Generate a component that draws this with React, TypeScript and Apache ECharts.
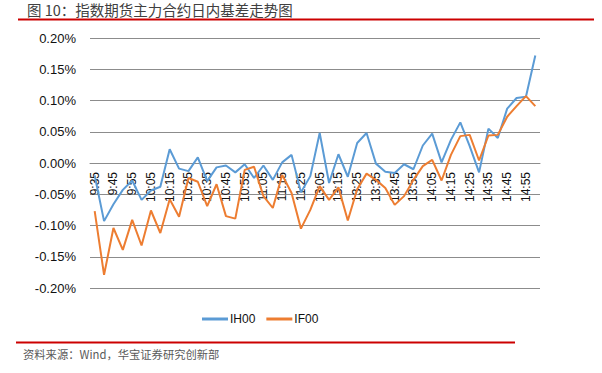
import React, { useEffect, useRef } from "react";
import * as echarts from "echarts";

const TITLE = "图 10：指数期货主力合约日内基差走势图";
const SOURCE = "资料来源：Wind，华宝证券研究创新部";

const times = [
  "9:35", "9:40", "9:45", "9:50", "9:55", "10:00", "10:05", "10:10", "10:15", "10:20",
  "10:25", "10:30", "10:35", "10:40", "10:45", "10:50", "10:55", "11:00", "11:05", "11:10",
  "11:15", "11:20", "11:25", "11:30", "13:05", "13:10", "13:15", "13:20", "13:25", "13:30",
  "13:35", "13:40", "13:45", "13:50", "13:55", "14:00", "14:05", "14:10", "14:15", "14:20",
  "14:25", "14:30", "14:35", "14:40", "14:45", "14:50", "14:55", "15:00",
];

const ih00 = [
  -0.020, -0.093, -0.066, -0.043, -0.028, -0.059, -0.044, -0.038, 0.022, -0.009,
  -0.013, 0.009, -0.029, -0.007, -0.004, -0.015, -0.002, -0.024, -0.004, -0.027,
  0.001, 0.013, -0.047, -0.021, 0.048, -0.032, 0.014, -0.022, 0.032, 0.048,
  -0.001, -0.014, -0.016, -0.002, -0.010, 0.028, 0.047, 0.001, 0.037, 0.065,
  0.027, -0.015, 0.055, 0.040, 0.087, 0.104, 0.106, 0.172,
];

const if00 = [
  -0.077, -0.179, -0.104, -0.139, -0.091, -0.132, -0.076, -0.112, -0.058, -0.086,
  -0.024, -0.030, -0.069, -0.034, -0.085, -0.089, -0.011, -0.006, -0.053, -0.072,
  -0.019, -0.048, -0.105, -0.075, -0.037, -0.059, -0.039, -0.092, -0.042, -0.017,
  -0.027, -0.040, -0.067, -0.053, -0.027, -0.005, 0.005, -0.028, 0.013, 0.043,
  0.045, 0.004, 0.044, 0.045, 0.074, 0.091, 0.107, 0.091,
];

const yMin = -0.2;
const yMax = 0.2;
const yStep = 0.05;

export default function App() {
  const ref = useRef<HTMLDivElement>(null);
  useEffect(() => {
    if (!ref.current) return;
    const chart = echarts.init(ref.current, undefined, { renderer: "svg" });
    const latin = "'Liberation Sans', Arial, sans-serif";
    const cjk = "'Noto Sans CJK SC', sans-serif";
    const gridTop = 38;
    const gridHeight = 250;
    // distance from bottom of grid to the zero line
    const zeroOffset = (gridHeight * (0 - yMin)) / (yMax - yMin);
    chart.setOption({
      animation: false,
      backgroundColor: "#ffffff",
      grid: { left: 90, right: 62, top: gridTop, height: gridHeight, containLabel: false },
      xAxis: {
        type: "category",
        data: times,
        boundaryGap: true,
        position: "bottom",
        offset: -zeroOffset,
        axisLine: { onZero: false, lineStyle: { color: "#8c8c8c", width: 1 } },
        axisTick: { show: false },
        axisLabel: {
          interval: 1,
          rotate: 90,
          margin: 9,
          fontSize: 12,
          color: "#111",
          fontFamily: latin,
        },
        splitLine: { show: false },
      },
      yAxis: {
        type: "value",
        min: yMin,
        max: yMax,
        interval: yStep,
        axisLine: { show: false },
        axisTick: { show: false },
        axisLabel: {
          margin: 14,
          fontSize: 13,
          color: "#111",
          fontFamily: latin,
          formatter: (v: number) => v.toFixed(2) + "%",
        },
        splitLine: { lineStyle: { color: "#8c8c8c", width: 1 } },
      },
      legend: {
        left: 197,
        top: 308,
        itemWidth: 26,
        itemHeight: 3,
        itemGap: 11,
        icon: "rect",
        textStyle: { fontSize: 12, color: "#111", fontFamily: latin, padding: [0, 0, 0, -3] },
        data: ["IH00", "IF00"],
      },
      series: [
        {
          name: "IH00",
          type: "line",
          data: ih00,
          symbol: "none",
          lineStyle: { color: "#5B9BD5", width: 2 },
          itemStyle: { color: "#5B9BD5" },
        },
        {
          name: "IF00",
          type: "line",
          data: if00,
          symbol: "none",
          lineStyle: { color: "#ED7D31", width: 2 },
          itemStyle: { color: "#ED7D31" },
        },
      ],
      graphic: [
        {
          type: "text",
          left: 27,
          top: 2,
          style: { text: TITLE, fontSize: 14.5, fill: "#404040", fontFamily: cjk },
        },
        {
          type: "line",
          shape: { x1: 18, y1: 19.5, x2: 594, y2: 19.5 },
          style: { stroke: "#CC0000", lineWidth: 2 },
        },
        {
          type: "line",
          shape: { x1: 16, y1: 342.5, x2: 515, y2: 342.5 },
          style: { stroke: "#CC0000", lineWidth: 2 },
        },
        {
          type: "text",
          left: 23,
          top: 348,
          style: { text: SOURCE, fontSize: 11.3, fill: "#595959", fontFamily: cjk },
        },
      ],
    });
    return () => chart.dispose();
  }, []);
  return (
    <div
      ref={ref}
      style={{ position: "fixed", left: 0, top: 0, width: 602, height: 373, background: "#fff" }}
    />
  );
}
